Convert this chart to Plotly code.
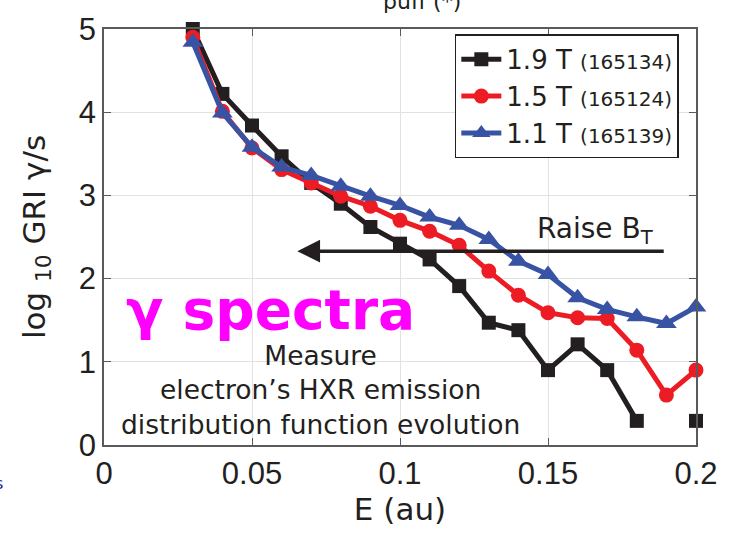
import plotly.graph_objects as go

# ---- data ----
energy = [0.03, 0.04, 0.05, 0.06, 0.07, 0.08, 0.09, 0.10, 0.11, 0.12,
          0.13, 0.14, 0.15, 0.16, 0.17, 0.18, 0.19, 0.20]
gri_19T = [5.00, 4.22, 3.84, 3.47, 3.15, 2.90, 2.62, 2.42, 2.23, 1.91,
           1.47, 1.38, 0.90, 1.21, 0.90, 0.29, None, 0.29]
gri_15T = [4.90, 4.01, 3.57, 3.31, 3.15, 2.99, 2.87, 2.70, 2.57, 2.40,
           2.09, 1.80, 1.59, 1.53, 1.52, 1.14, 0.60, 0.90]
gri_11T = [4.84, 3.99, 3.58, 3.34, 3.24, 3.11, 2.99, 2.88, 2.74, 2.64,
           2.47, 2.21, 2.05, 1.77, 1.63, 1.54, 1.46, 1.66]

series_names = ["1.9 T <span style='font-size:20px'>(165134)</span>",
                "1.5 T <span style='font-size:20px'>(165124)</span>",
                "1.1 T <span style='font-size:20px'>(165139)</span>"]

x_ticks = [0, 0.05, 0.1, 0.15, 0.2]
x_ticktext = ["0", "0.05", "0.1", "0.15", "0.2"]
y_ticks = [0, 1, 2, 3, 4, 5]

arrow_y = 2.33
arrow_tail_e = 0.1896
arrow_tip_e = 0.0653

BLACK = "#231f20"
RED = "#ed1c24"
BLUE = "#3953a4"
TXT = "#231f20"

fig = go.Figure()
fig.add_trace(go.Scatter(
    x=energy, y=gri_19T, name=series_names[0], mode="lines+markers",
    line=dict(color=BLACK, width=5),
    marker=dict(symbol="square", size=14, color=BLACK),
    cliponaxis=False))
red_symbols = ["circle"] * (len(energy) - 1) + ["circle-dot"]
fig.add_trace(go.Scatter(
    x=energy, y=gri_15T, name=series_names[1], mode="lines+markers",
    line=dict(color=RED, width=5),
    marker=dict(symbol=red_symbols, size=15, color=RED,
                line=dict(color="white", width=0)),
    cliponaxis=False))
fig.add_trace(go.Scatter(
    x=energy, y=gri_11T, name=series_names[2], mode="lines+markers",
    line=dict(color=BLUE, width=5),
    marker=dict(symbol="triangle-up", size=18, color=BLUE),
    cliponaxis=False))

axis_common = dict(
    showgrid=True, gridcolor="#e2e2e2", gridwidth=1,
    showline=True, linecolor="#5a5a5a", linewidth=1.5, mirror="ticks",
    ticks="inside", ticklen=7, tickcolor="#5a5a5a", tickwidth=1,
    zeroline=False,
    tickfont=dict(family="Liberation Sans", size=31, color=TXT),
)

fig.update_layout(
    width=730, height=533,
    margin=dict(l=104, r=32, t=20, b=83),
    paper_bgcolor="white", plot_bgcolor="white",
    showlegend=True,
    legend=dict(
        x=0.971, xanchor="right", y=0.987, yanchor="top",
        bgcolor="white", bordercolor=BLACK, borderwidth=1.5,
        font=dict(family="DejaVu Sans", size=26, color=TXT),
        itemwidth=40, tracegroupgap=0),
    xaxis=dict(range=[0, 0.2], tickvals=x_ticks, ticktext=x_ticktext,
               title=dict(text="E (au)", standoff=8,
                          font=dict(family="DejaVu Sans", size=31, color=TXT)),
               **axis_common),
    yaxis=dict(range=[0, 5], tickvals=y_ticks,
               title=dict(text="log <sub>10</sub> GRI γ/s", standoff=24,
                          font=dict(family="DejaVu Sans", size=31, color=TXT)),
               **axis_common),
)

annotations = [
    dict(x=arrow_tip_e, y=arrow_y, ax=arrow_tail_e, ay=arrow_y,
         xref="x", yref="y", axref="x", ayref="y", text="",
         showarrow=True, arrowhead=2, arrowsize=1.3, arrowwidth=3.5,
         arrowcolor=BLACK),
    dict(x=0.166, y=2.58, xref="x", yref="y", text="Raise B<sub>T</sub>",
         showarrow=False, font=dict(family="DejaVu Sans", size=28, color=TXT)),
    dict(x=0.0562, y=1.62, xref="x", yref="y", text="<b>γ spectra</b>",
         showarrow=False, font=dict(family="DejaVu Sans", size=55, color="#ff00ff")),
    dict(x=0.073, y=0.66, xref="x", yref="y",
         text="Measure<br>electron’s HXR emission<br>distribution function evolution",
         align="center", showarrow=False,
         font=dict(family="DejaVu Sans", size=26.5, color=TXT)),
    dict(x=0.537, y=1.066, xref="paper", yref="paper", text="puff (*)",
         showarrow=False, yanchor="middle",
         font=dict(family="DejaVu Sans", size=22, color=TXT)),
    dict(x=-0.168, y=-0.093, xref="paper", yref="paper", text="s",
         showarrow=False, xanchor="right", yanchor="middle",
         font=dict(family="DejaVu Sans", size=16, color="#1a1aa0")),
]
fig.update_layout(annotations=annotations)

fig.write_html("out.html")
